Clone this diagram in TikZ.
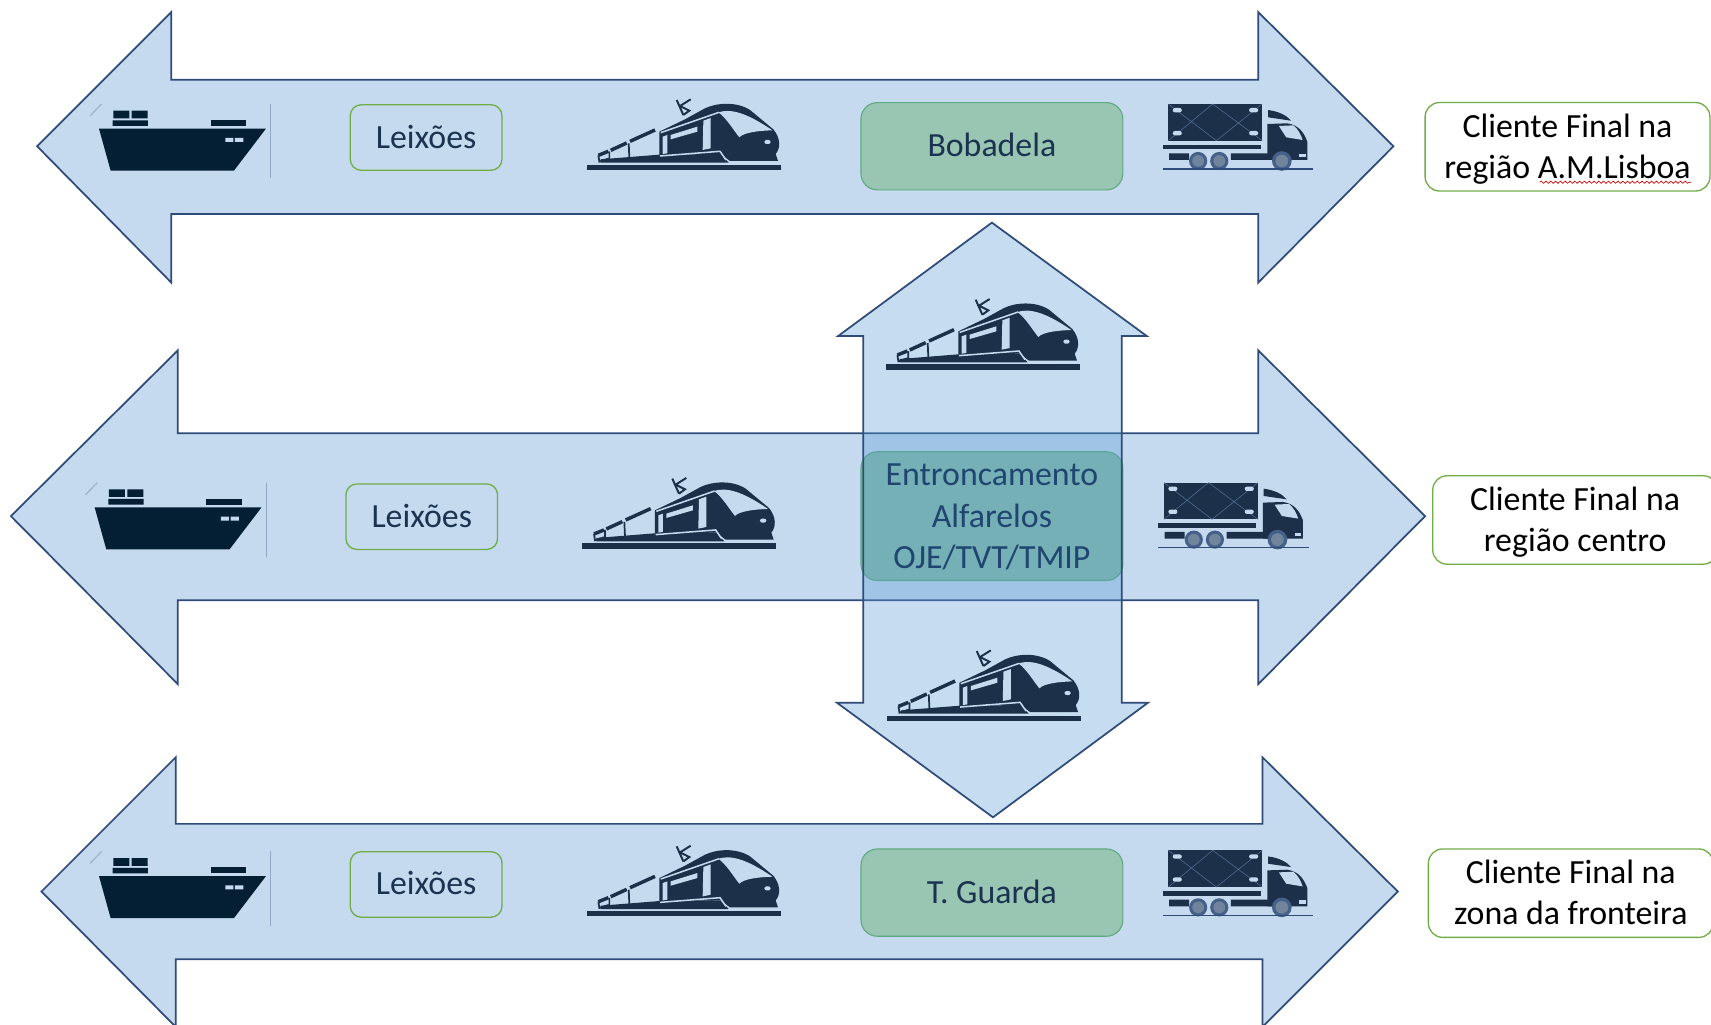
\documentclass[tikz,border=0pt]{standalone}
\usepackage{fontspec}
\setmainfont{Carlito}
\usetikzlibrary{decorations.pathmorphing}

\definecolor{barfill}{HTML}{C5DAEE}
\definecolor{barblue}{HTML}{5B9BD5}
\definecolor{barline}{HTML}{2F4B78}
\definecolor{boxgreen}{HTML}{70AD47}
\definecolor{hubfill}{HTML}{99C6B3}
\definecolor{hubmid}{HTML}{82BCA4}
\definecolor{hubline}{HTML}{5FA97F}
\definecolor{shipdark}{HTML}{041E33}
\definecolor{icondark}{HTML}{1C3049}
\definecolor{textdark}{HTML}{1B3350}
\definecolor{textunder}{HTML}{00183A}

\tikzset{
  bigarrow/.style={fill=barfill, draw=barline, line width=.8pt, line join=miter},
  crossarrow/.style={fill=barblue, fill opacity=.35, draw=barline, line width=.8pt},
  portbox/.style={draw=boxgreen, fill=barfill, line width=.6pt, rounded corners=5pt, text=textdark,
    minimum width=69.5pt, minimum height=30pt, inner sep=0pt, text depth=1pt, font=\fontsize{15.5}{19}\selectfont},
  hubbox/.style={draw=hubline, fill=hubfill, line width=.5pt, rounded corners=7.5pt, text=textdark,
    minimum width=120pt, minimum height=40pt, inner sep=0pt, align=center, font=\fontsize{15.5}{19}\selectfont},
  clientbox/.style={draw=boxgreen, fill=white, line width=.6pt, rounded corners=6.5pt, text=black,
    minimum width=130.5pt, minimum height=40.5pt, inner sep=0pt, align=center, text height=32pt, font=\fontsize{15.5}{19}\selectfont},
  squiggle/.style={draw=red!80!black, line width=.3pt, decorate,
    decoration={snake, amplitude=.5pt, segment length=2.2pt}},
  iconsmall/.style={scale=.3054},
  iconlarge/.style={xscale=.3333, yscale=.3054},
  pics/shipicon/.style={code={
    \fill[shipdark] (57,146) -- (558,146) -- (462,272) -- (92,272) -- cycle; % hull
    \fill[shipdark] (100,92) rectangle (148,115) (155,92) rectangle (203,115) (98,121) rectangle (204,138);
    \fill[shipdark] (392,120) rectangle (498,138);
    \fill[barfill] (436,174) rectangle (460,186) (465,174) rectangle (490,186);
    \draw[barline!35!barfill, line width=.5pt] (572,72) -- (572,295);
    \draw[barline!25!barfill, line width=.6pt] (30,108) -- (65,72);
  }},
  pics/trainicon/.style={code={
    \fill[icondark] (50,254) rectangle (632,270); % rail
    \fill[icondark] (268,225) -- (268,155) -- (345,118) -- (405,85) .. controls (440,68) and (500,64) .. (540,90)
      -- (610,148) .. controls (632,175) and (632,205) .. (617,222) -- (624,243) -- (480,243)
      -- (452,222) -- cycle; % carriage
    \fill[icondark] (92,238) -- (268,224) -- (452,222) -- (476,248) -- (92,248) -- cycle; % low deck
    \fill[barfill] (445,97) .. controls (480,86) and (525,95) .. (607,151) .. controls (565,152) and (520,158) .. (508,172)
      .. controls (490,150) and (470,115) .. cycle; % windscreen
    \draw[barfill, line width=.7pt] (272,158) -- (447,97);
    \fill[barfill] (400,122) -- (422,114) -- (422,205) -- (398,210) -- cycle; % door
    \fill[barfill] (278,170) -- (292,165) -- (292,220) -- (278,222) -- cycle;
    \fill[barfill] (302,165) -- (382,140) -- (382,155) -- (302,178) -- cycle;
    \fill[barfill, rounded corners=1pt] (583,180) rectangle (602,192);
    \draw[barfill, line width=.7pt] (270,228) -- (450,214) -- (468,240);
    \draw[icondark, line width=1.6pt] (180,184) -- (255,150) (122,211) -- (170,189) (85,226) -- (115,214);
    \draw[icondark, line width=.8pt] (176,190) -- (178,234) (118,214) -- (118,238) (85,226) -- (88,245) -- (115,236);
    \draw[icondark, line width=.9pt] (320,60) -- (340,105) (362,58) -- (330,78) -- (358,92) -- (340,105); % pantograph
    \draw[barfill, line width=.7pt, dash pattern=on 18pt off 3pt on 5pt off 4pt] (100,252) -- (560,252);
  }},
  pics/truckicon/.style={code={
    \fill[icondark] (78,72) rectangle (336,182); % cargo box
    \draw[barline!75!barfill, line width=.25pt] (78,72) -- (210,182) -- (336,72) (78,182) -- (200,72) -- (336,182);
    \foreach \dotx/\doty in {90/84, 300/84, 90/153, 300/153}
      \fill[barfill, rounded corners=1pt] (\dotx,\doty) rectangle ++(25,13);
    \fill[icondark] (62,194) rectangle (332,208); % chassis
    \fill[icondark] (80,220) rectangle (135,240) (250,220) rectangle (365,240);
    \fill[icondark] (350,132) -- (350,240) -- (460,240) -- (460,185) .. controls (450,155) and (435,135) .. (405,130) -- cycle; % cab
    \fill[icondark] (352,90) .. controls (385,95) and (405,108) .. (415,122) -- (352,112) -- cycle;
    \fill[barfill] (382,138) -- (422,136) .. controls (435,148) and (443,165) .. (447,180) -- (402,172) -- cycle;
    \fill[barfill] (437,222) rectangle (456,232);
    \foreach \wheelx/\wheelr in {160/25, 218/25, 390/27} {
      \fill[barline!85!barfill] (\wheelx,243) ellipse ({\wheelr} and {\wheelr*1.09});
      \fill[icondark!50!barfill] (\wheelx,243) ellipse ({\wheelr*.65} and {\wheelr*.7});
    }
    \draw[barline, line width=.5pt] (62,267) -- (477,267);
  }}
}

\begin{document}
\begin{tikzpicture}[x=.5pt,y=-.5pt]
\useasboundingbox (0,0) rectangle (1568,939);

% three long arrows
\draw[bigarrow] (34,134) -- (157,11) -- (157,73) -- (1153,73) -- (1153,11) -- (1277,134) -- (1153,259) -- (1153,196) -- (157,196) -- (157,259) -- cycle;
\draw[bigarrow] (10,473) -- (163,321) -- (163,397) -- (1153,397) -- (1153,321) -- (1306,473) -- (1153,627) -- (1153,550) -- (163,550) -- (163,627) -- cycle;
\draw[bigarrow] (38,817) -- (161,694) -- (161,755) -- (1157,755) -- (1157,694) -- (1281,817) -- (1157,941) -- (1157,879) -- (161,879) -- (161,941) -- cycle;

% boxes on the arrows
\node[portbox] (portA) at (390.5,126) {Leixões};
\node[portbox] (portB) at (386.5,473.5) {Leixões};
\node[portbox] (portC) at (390.5,810.5) {Leixões};
\node[hubbox, text depth=1pt] (hubA) at (909,134) {Bobadela};
\node[hubbox, fill=hubmid, text=textunder, minimum height=59pt, text height=49pt] (hubB) at (909,473) {Entroncamento\\Alfarelos\\OJE/TVT/TMIP};
\node[hubbox, text depth=1pt] (hubC) at (909,818) {T. Guarda};

% upright arrow, see-through
\draw[crossarrow] (909,204) -- (1051,308) -- (1028,308) -- (1028,644) -- (1052,644) -- (910,749) -- (767,644) -- (791,644) -- (791,308) -- (768,308) -- cycle;

% icons
\pic[iconsmall] (shipA) at (73.3,73.3) {shipicon};
\pic[iconsmall] (shipB) at (69.3,420.3) {shipicon};
\pic[iconsmall] (shipC) at (73.3,758.3) {shipicon};
\pic[iconsmall] (trainA) at (522.4,73.3) {trainicon};
\pic[iconsmall] (trainB) at (518.4,420.3) {trainicon};
\pic[iconsmall] (trainC) at (522.4,757.3) {trainicon};
\pic[iconsmall] (trainUp) at (796.4,256.3) {trainicon};
\pic[iconsmall] (trainDown) at (797.4,578.3) {trainicon};
\pic[iconlarge] (truckA) at (1044.7,73.3) {truckicon};
\pic[iconlarge] (truckB) at (1040.7,420.3) {truckicon};
\pic[iconlarge] (truckC) at (1044.7,757.3) {truckicon};

% end customers
\node[clientbox] (clientA) at (1436.5,134.5) {Cliente Final na\\região A.M.Lisboa};
\node[clientbox] (clientB) at (1443.5,476.5) {Cliente Final na\\região centro};
\node[clientbox, text height=29pt] (clientC) at (1439.5,818.5) {Cliente Final na\\zona da fronteira};
\draw[squiggle] (1411,167) -- (1550,167); % spell check mark
\end{tikzpicture}
\end{document}
